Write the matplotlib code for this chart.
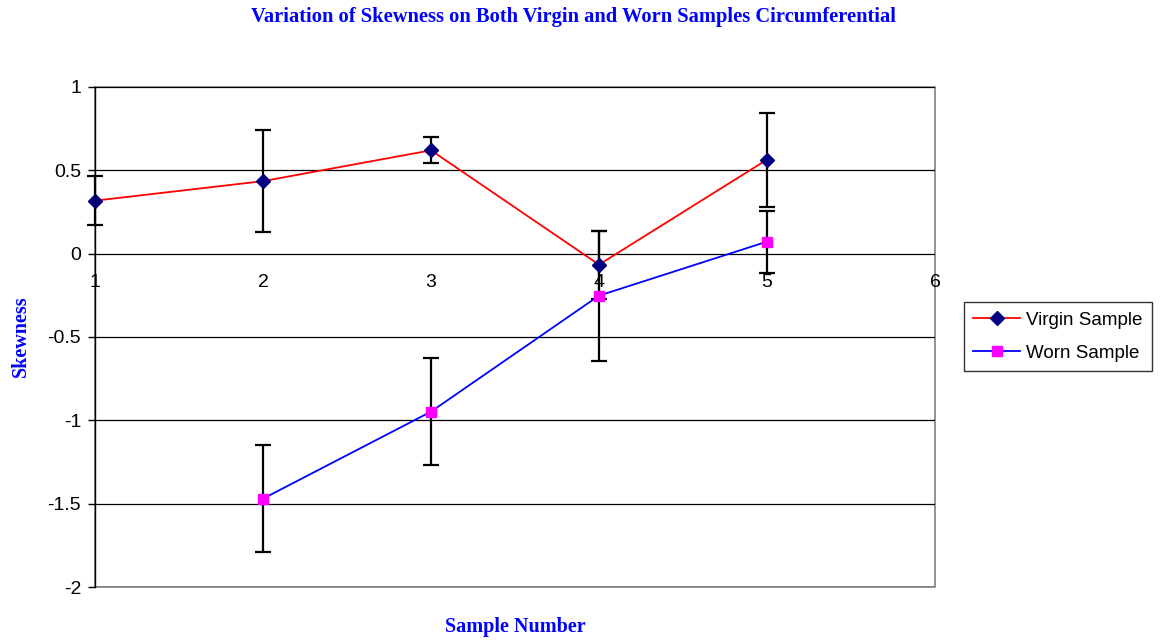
import matplotlib
matplotlib.use("Agg")
import matplotlib.pyplot as plt
from matplotlib.patches import Rectangle
from matplotlib.transforms import ScaledTranslation

sample_numbers = [1, 2, 3, 4, 5]
virgin_skew = [0.318, 0.435, 0.620, -0.066, 0.564]
virgin_err = [0.145, 0.305, 0.078, 0.204, 0.282]

worn_samples = [2, 3, 4, 5]
worn_skew = [-1.470, -0.948, -0.252, 0.072]
worn_err = [0.322, 0.320, 0.390, 0.186]

y_ticks = [-2, -1.5, -1, -0.5, 0, 0.5, 1]
y_tick_labels = ["-2", "-1.5", "-1", "-0.5", "0", "0.5", "1"]
x_ticks = [1, 2, 3, 4, 5, 6]

fig = plt.figure(figsize=(11.6, 6.4), dpi=100)
ax = fig.add_axes([0.0819, 0.0828, 0.7241, 0.7813])

ax.set_xlim(1, 6)
ax.set_ylim(-2, 1)

# horizontal gridlines
for yv in y_ticks:
    ax.axhline(yv, color="black", lw=0.9, zorder=1)

for xs, ys, es in [(sample_numbers, virgin_skew, virgin_err),
                   (worn_samples, worn_skew, worn_err)]:
    eb = ax.errorbar(xs, ys, yerr=es, fmt="none", ecolor="black",
                     elinewidth=1.6, capsize=6, capthick=1.6, zorder=2)
    for art in eb.lines[1] + eb.lines[2]:
        art.set_clip_on(False)

ax.plot(sample_numbers, virgin_skew, color="red", lw=1.3, marker="D",
        markersize=7, markerfacecolor="#000080", markeredgecolor="#000080",
        label="Virgin Sample", zorder=3, clip_on=False)
ax.plot(worn_samples, worn_skew, color="blue", lw=1.3, marker="s",
        markersize=7, markerfacecolor="#FF00FF", markeredgecolor="#FF00FF",
        label="Worn Sample", zorder=3, clip_on=False)

# plot-area frame
for side in ["top", "right", "bottom"]:
    ax.spines[side].set_visible(False)
ax.add_patch(Rectangle((0, 0), 1, 1, transform=ax.transAxes, fill=False,
                       edgecolor="#808080", lw=1.2, zorder=0, clip_on=False))
ax.spines["left"].set_color("black")
ax.spines["left"].set_linewidth(1.0)
ax.spines["left"].set_zorder(4)

ax.set_yticks(y_ticks)
ax.set_yticklabels(y_tick_labels)
ax.set_xticks(x_ticks)
ax.set_xticklabels([str(v) for v in x_ticks])
ax.tick_params(axis="y", direction="out", length=5, width=1, pad=5,
               labelsize=14, colors="black")
ax.tick_params(axis="x", length=0, labelsize=14)
for lab in ax.get_xticklabels() + ax.get_yticklabels():
    lab.set_fontfamily("Liberation Sans")

# category labels sit just under the zero line
offset = ScaledTranslation(0, -14.5 / 72, fig.dpi_scale_trans)
for t in ax.xaxis.get_major_ticks():
    t.label1.set_transform(ax.transData + offset)
    t.label1.set_y(0)
    t.label1.set_verticalalignment("top")

title_font = dict(family="Liberation Serif", weight="bold", color="#0000FF")
fig.text(0.494, 0.973, "Variation of Skewness on Both Virgin and Worn Samples Circumferential",
         ha="center", va="center", fontsize=14.8, **title_font)
fig.text(0.444, 0.021, "Sample Number", ha="center", va="center",
         fontsize=14.5, **title_font)
fig.text(0.018, 0.475, "Skewness", ha="center", va="center", rotation=90,
         fontsize=14.5, **title_font)

leg = fig.legend(loc="upper left", bbox_to_anchor=(0.831, 0.528),
                 frameon=True, fancybox=False, edgecolor="black",
                 prop={"family": "Liberation Sans", "size": 13.5},
                 handlelength=2.5, borderpad=0.5, labelspacing=0.85,
                 handletextpad=0.3, borderaxespad=0)
leg.get_frame().set_linewidth(1.0)

fig.savefig("out.png", dpi=100)
